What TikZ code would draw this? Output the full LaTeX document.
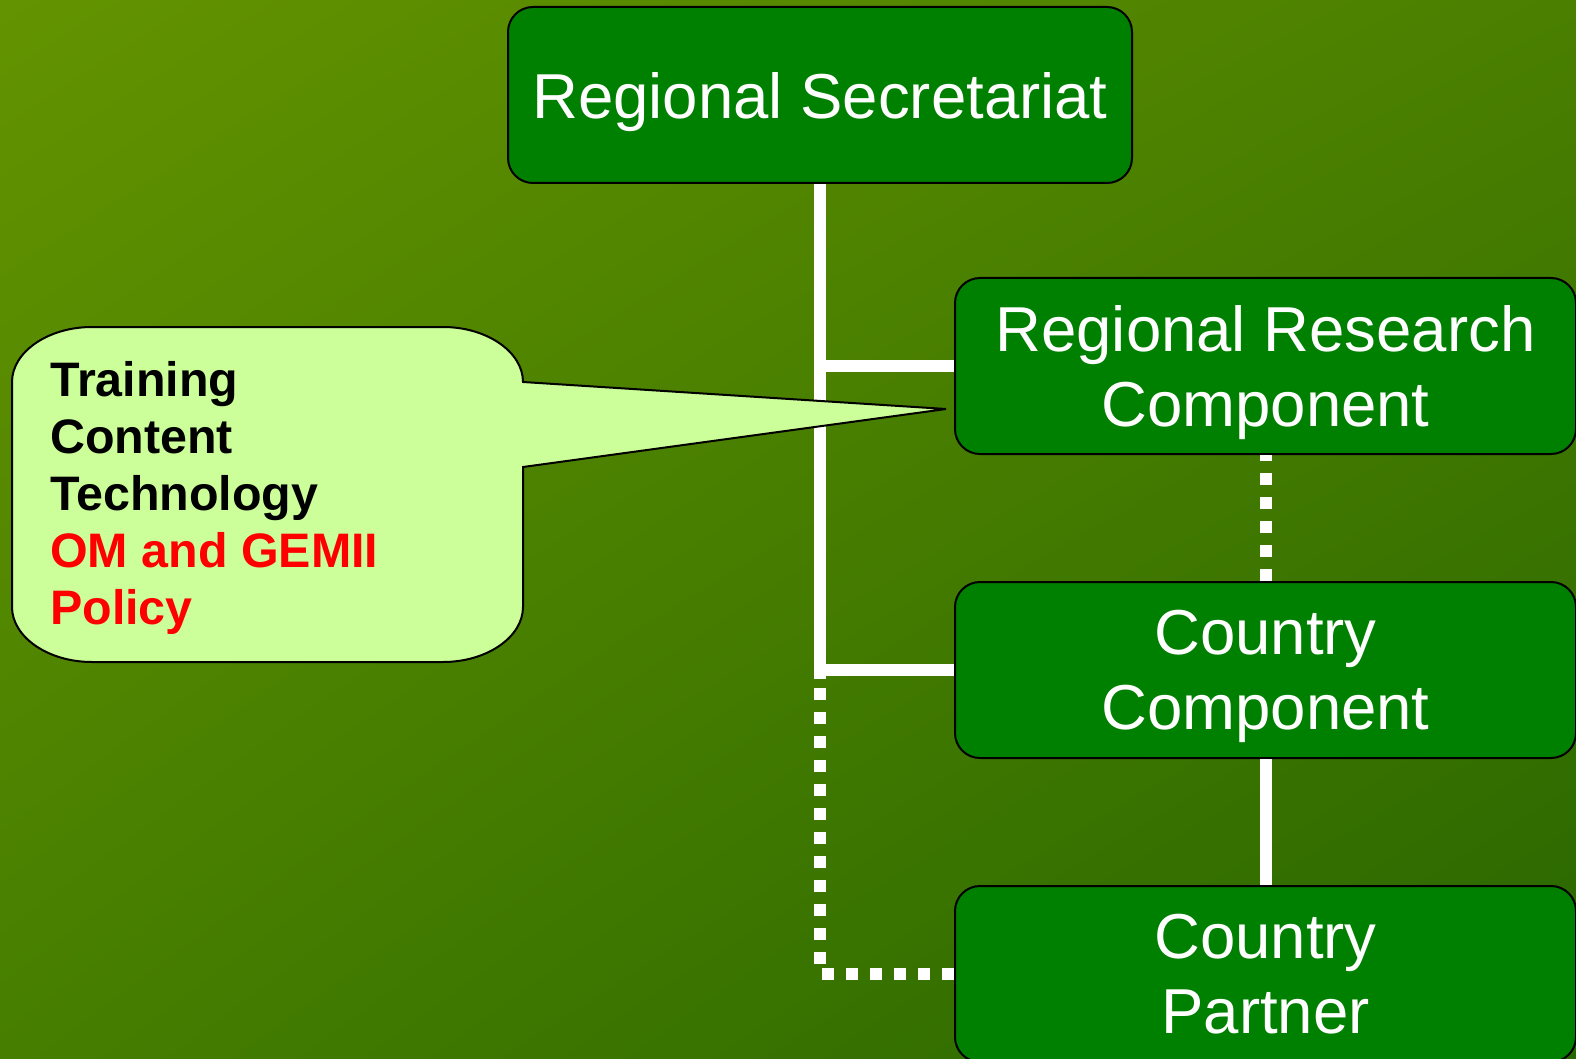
\documentclass[tikz,border=0pt]{standalone}
\usepackage{fontspec}
\setmainfont{Liberation Sans}
\usetikzlibrary{shadings}
\definecolor{bgUL}{RGB}{99,147,0}
\definecolor{bgUR}{RGB}{74,127,0}
\definecolor{bgLL}{RGB}{70,126,0}
\definecolor{bgLR}{RGB}{40,102,0}
\definecolor{boxgreen}{RGB}{0,128,0}
\definecolor{calloutfill}{RGB}{204,255,153}
\definecolor{alertred}{RGB}{255,0,0}
\tikzset{
  orgbox/.style={draw=black, line width=2pt, fill=boxgreen, rounded corners=25pt,
    minimum height=176pt, inner sep=0pt, text=white, align=center, text depth=0pt,
    font=\fontsize{63.5}{75}\selectfont},
  wline/.style={draw=white, line width=12pt},
  dotline/.style={draw=white, line width=12pt, dash pattern=on 12pt off 12pt},
  callout/.style={draw=black, line width=2pt, fill=calloutfill}
}
\begin{document}
\begin{tikzpicture}[x=1pt,y=-1pt]
\useasboundingbox (0,0) rectangle (1576,1059);
\shade[upper left=bgUL, upper right=bgUR, lower left=bgLL, lower right=bgLR] (0,0) rectangle (1576,1059);

% boxes
\node[orgbox, minimum width=624pt] (RS) at (820,95) {Regional Secretariat};
\node[orgbox, minimum width=621pt] (RRC) at (1265.5,366) {Regional Research\\Component};
\node[orgbox, minimum width=621pt] (CC) at (1265.5,670) {Country\\Component};
\node[orgbox, minimum width=621pt] (CP) at (1265.5,974) {Country\\Partner};

% connectors
\coordinate (tb) at (820,679);
\draw[wline] (RS.south) -- (tb);
\draw[wline] (RRC.west) -- (RRC.west -| RS.south);
\draw[wline] (CC.west) -- (CC.west -| RS.south);
\draw[dotline] (CP.west) -| (tb);
\draw[dotline] (CC.north) -- (RRC.south);
\draw[wline] (CC.south) -- (CP.north);

% callout
\draw[callout] (523,382) -- (946,409) -- (523,467) -- (523,607)
  .. controls (523,637) and (487,662) .. (443,662) -- (92,662)
  .. controls (48,662) and (12,637) .. (12,607) -- (12,382)
  .. controls (12,352) and (48,327) .. (92,327) -- (443,327)
  .. controls (487,327) and (523,352) .. (523,382) -- cycle;
\node[anchor=north west, inner sep=0pt, align=left,
  font=\bfseries\fontsize{48.4}{57}\selectfont] (note) at (50,361)
  {Training\\Content\\Technology\\\textcolor{alertred}{OM and GEMII}\\\textcolor{alertred}{Policy}};
\end{tikzpicture}
\end{document}
